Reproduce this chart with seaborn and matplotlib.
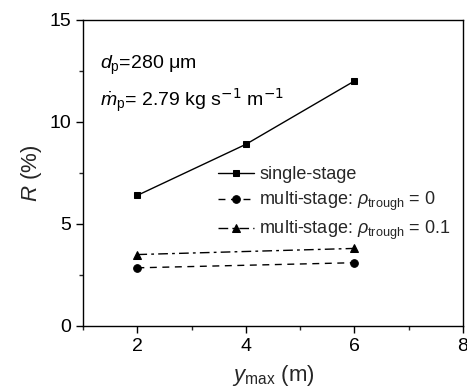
import matplotlib
matplotlib.use("Agg")
import matplotlib.pyplot as plt
import seaborn as sns
import pandas as pd
from matplotlib.ticker import MultipleLocator

# Data
x_single = [2, 4, 6]
r_single = [6.4, 8.9, 12.0]
x_multi = [2, 6]
r_multi0 = [2.85, 3.1]
r_multi01 = [3.5, 3.8]

labels = ["single-stage",
          r"multi-stage: $\rho_{\mathrm{trough}}$ = 0",
          r"multi-stage: $\rho_{\mathrm{trough}}$ = 0.1"]

sns.set_theme(style="ticks")
plt.rcParams['font.family'] = ['Liberation Sans', 'DejaVu Sans']
plt.rcParams['mathtext.fontset'] = 'custom'
plt.rcParams['mathtext.rm'] = 'Liberation Sans'
plt.rcParams['mathtext.it'] = 'Liberation Sans:italic'
plt.rcParams['mathtext.bf'] = 'Liberation Sans:bold'

fig = plt.figure(figsize=(4.67, 3.89), dpi=100)
ax = fig.add_axes([0.178, 0.162, 0.813, 0.787])

df1 = pd.DataFrame({"x": x_single, "y": r_single})
df2 = pd.DataFrame({"x": x_multi, "y": r_multi0})
df3 = pd.DataFrame({"x": x_multi, "y": r_multi01})

sns.lineplot(data=df1, x="x", y="y", ax=ax, color="black", marker="s", markersize=5,
             linewidth=1.0, linestyle="-", label=labels[0], markeredgecolor="black")
sns.lineplot(data=df2, x="x", y="y", ax=ax, color="black", marker="o", markersize=5.5,
             linewidth=1.0, linestyle=(0, (5, 4)), label=labels[1], markeredgecolor="black")
sns.lineplot(data=df3, x="x", y="y", ax=ax, color="black", marker="^", markersize=6,
             linewidth=1.0, linestyle=(0, (7, 3, 2, 3)), label=labels[2], markeredgecolor="black")

ax.set_xlim(1, 8)
ax.set_ylim(0, 15)
ax.xaxis.set_major_locator(MultipleLocator(2))
ax.xaxis.set_minor_locator(MultipleLocator(1))
ax.yaxis.set_major_locator(MultipleLocator(5))
ax.yaxis.set_minor_locator(MultipleLocator(2.5))
ax.tick_params(which='major', direction='out', length=5, width=1, labelsize=14, colors='black')
ax.tick_params(which='minor', direction='out', length=3, width=1)
for s in ax.spines.values():
    s.set_color('black')
    s.set_linewidth(1.0)

ax.set_xlabel(r"$y_{\mathrm{max}}$ (m)", fontsize=16, labelpad=6)
ax.set_ylabel(r"$R$ (%)", fontsize=16, labelpad=4)

ax.text(0.045, 0.84, r"$d_{\mathrm{p}}$=280 $\mathrm{\mu}$m", transform=ax.transAxes,
        fontsize=14, color='black')
ax.text(0.045, 0.72, r"$\dot{m}_{\mathrm{p}}$= 2.79 kg s$^{\mathsf{-1}}$ m$^{\mathsf{-1}}$", transform=ax.transAxes,
        fontsize=14, color='black')

ax.legend(loc='upper left', bbox_to_anchor=(0.335, 0.545), frameon=False, fontsize=13,
          handlelength=2.0, handletextpad=0.3, labelspacing=0.35, borderaxespad=0)

fig.savefig("out.png", dpi=100)
